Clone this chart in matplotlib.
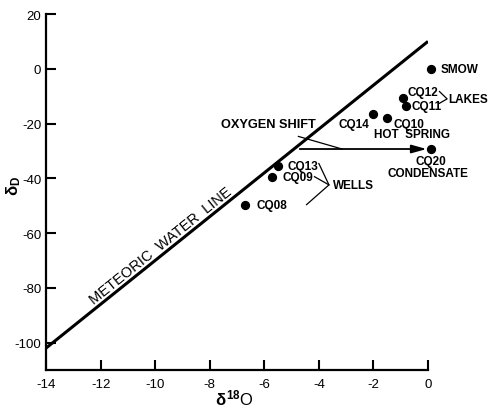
import matplotlib

matplotlib.use("Agg")
from matplotlib import pyplot as plt

# sample points, delta 18O vs delta D
names = ["SMOW", "CQ12", "CQ11", "CQ14", "CQ10", "CQ20", "CQ13", "CQ09", "CQ08"]
d18o = [0.1, -0.9, -0.8, -2.0, -1.5, 0.1, -5.5, -5.7, -6.7]
dd = [0.0, -10.5, -13.5, -16.5, -18.0, -29.3, -35.4, -39.4, -49.6]

# meteoric water line dD = 8 d18O + 10
mwl_x = [-14, 0]
mwl_y = [8 * x + 10 for x in mwl_x]

xticks = [-14, -12, -10, -8, -6, -4, -2, 0]
yticks = [20, 0, -20, -40, -60, -80, -100]

plt.rcParams["font.family"] = ["Liberation Sans", "DejaVu Sans"]
plt.rcParams["axes.unicode_minus"] = False
plt.rcParams["mathtext.fontset"] = "custom"
plt.rcParams["mathtext.rm"] = "Liberation Sans:bold"
plt.rcParams["mathtext.it"] = "Liberation Sans:bold"

fig = plt.figure(figsize=(4.91, 4.1), dpi=100)
ax = fig.add_axes([0.0937, 0.0951, 0.778, 0.8683])

ax.plot(mwl_x, mwl_y, color="black", lw=2.2, solid_capstyle="butt")
ax.scatter(d18o, dd, s=32, color="black", zorder=3, clip_on=False)

ax.set_xlim(-14, 0)
ax.set_ylim(-110, 20)
ax.set_xticks(xticks)
ax.set_yticks(yticks)
ax.tick_params(direction="in", length=7, width=1.5, labelsize=9.5)
ax.tick_params(axis="x", pad=6)
for s in ("top", "right"):
    ax.spines[s].set_visible(False)
for s in ("left", "bottom"):
    ax.spines[s].set_linewidth(1.6)

fig.text(234 / 491, 1 - 398 / 410, r"$\delta^{18}$O", fontsize=12,
         ha="center", va="center")
fig.text(14 / 491, 1 - 186 / 410, r"$\delta_{\rm D}$", fontsize=12,
         rotation=90, ha="center", va="center")

kw = dict(fontsize=8.5, fontweight="bold", clip_on=False, va="center")
ax.text(0.45, 0.0, "SMOW", ha="left", **kw)
ax.text(-0.75, -8.3, "CQ12", ha="left", **kw)
ax.text(-0.6, -13.6, "CQ11", ha="left", **kw)
ax.text(-2.15, -20.0, "CQ14", ha="right", **kw)
ax.text(-1.25, -20.0, "CQ10", ha="left", **kw)
ax.text(-0.6, -24.0, "HOT  SPRING", ha="center", **kw)
ax.text(0.1, -33.8, "CQ20", ha="center", **kw)
ax.text(0.0, -38.0, "CONDENSATE", ha="center", **kw)
ax.text(-5.15, -35.4, "CQ13", ha="left", **kw)
ax.text(-5.35, -39.4, "CQ09", ha="left", **kw)
ax.text(-6.3, -49.8, "CQ08", ha="left", **kw)
ax.text(0.75, -11.0, "LAKES", ha="left", **kw)
ax.text(-3.5, -42.4, "WELLS", ha="left", **kw)
ax.text(-5.85, -20.0, "OXYGEN SHIFT", ha="center", fontsize=9.2,
        fontweight="bold", va="center")
ax.text(-9.8, -64.6, "METEORIC  WATER  LINE", ha="center", fontsize=10.5,
        rotation=38.8, rotation_mode="anchor", va="center")

# bracket and leader lines
lk = dict(color="black", lw=0.9, clip_on=False)
ax.plot([0.42, 0.7, 0.42], [-8.3, -11.0, -12.6], **lk)
ax.plot([-4.0, -3.63, -4.45], [-34.6, -42.4, -49.6], **lk)
ax.plot([-4.16, -3.63], [-39.4, -42.4], **lk)
ax.plot([-4.75, -3.15], [-24.7, -29.3], **lk)

ax.annotate("", xy=(-0.05, -29.3), xytext=(-4.7, -29.3),
            arrowprops=dict(arrowstyle="-|>,head_length=0.9,head_width=0.25",
                            color="black", lw=1.3, shrinkA=0, shrinkB=0))

plt.savefig("out.png", dpi=100)
